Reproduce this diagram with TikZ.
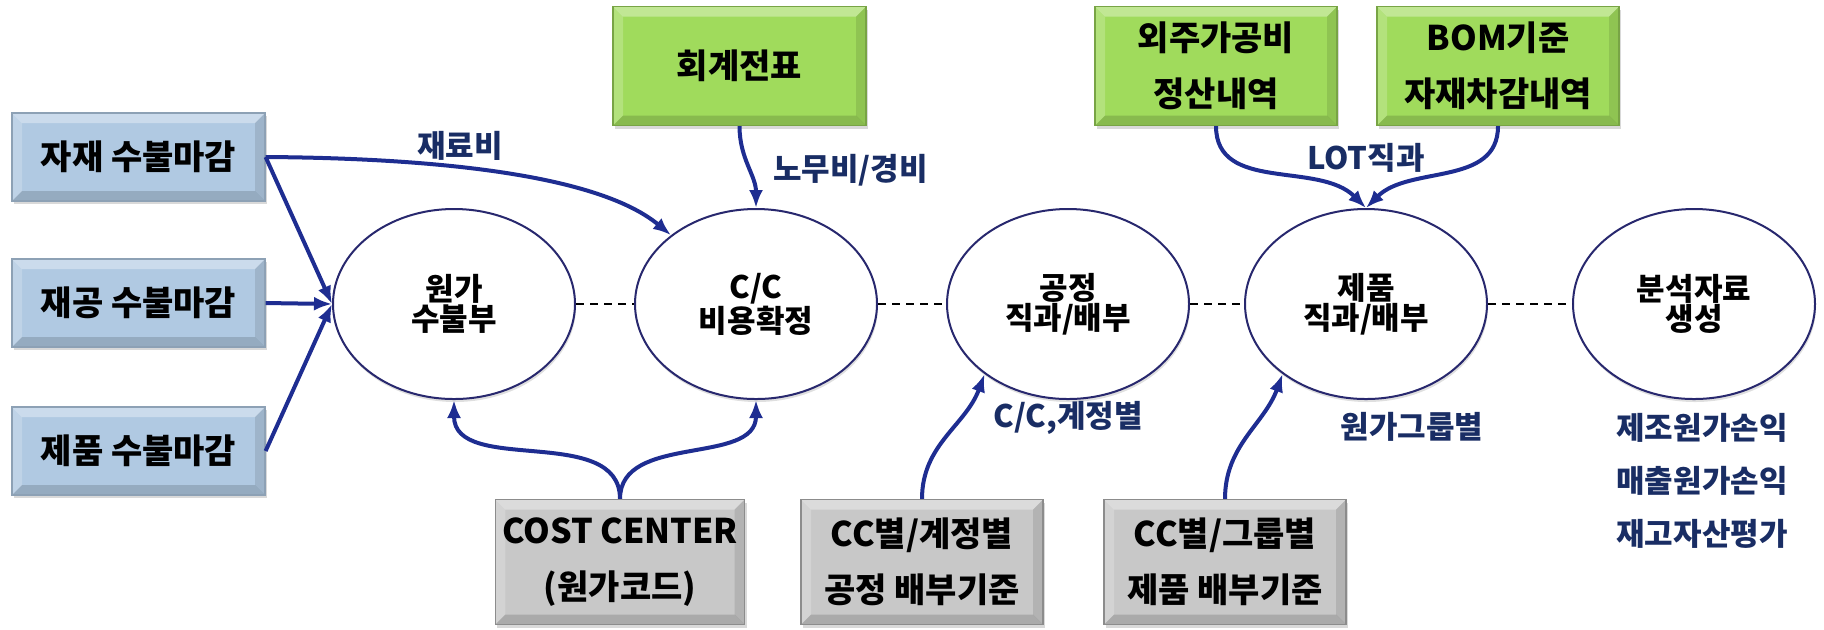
\documentclass[tikz,border=0pt]{standalone}
\usepackage{fontspec}
\setmainfont{Noto Sans CJK KR}
\usetikzlibrary{arrows.meta,shapes.geometric,shadows}

\definecolor{boxblue}{RGB}{176,201,226}
\definecolor{boxgreen}{RGB}{160,219,92}
\definecolor{boxgray}{RGB}{200,200,200}
\definecolor{flowblue}{RGB}{30,45,145}
\definecolor{labelblue}{RGB}{25,45,100}
\definecolor{rimblue}{RGB}{40,40,110}

\tikzset{
    bevel/.style={path picture={
        \fill[white, opacity=0.35] (path picture bounding box.north west)
            -- (path picture bounding box.north east)
            -- ([xshift=-5pt, yshift=-5pt]path picture bounding box.north east)
            -- ([xshift=5pt, yshift=-5pt]path picture bounding box.north west) -- cycle;
        \fill[white, opacity=0.2] (path picture bounding box.north west)
            -- (path picture bounding box.south west)
            -- ([xshift=5pt, yshift=5pt]path picture bounding box.south west)
            -- ([xshift=5pt, yshift=-5pt]path picture bounding box.north west) -- cycle;
        \fill[black, opacity=0.15] (path picture bounding box.south west)
            -- (path picture bounding box.south east)
            -- ([xshift=-5pt, yshift=5pt]path picture bounding box.south east)
            -- ([xshift=5pt, yshift=5pt]path picture bounding box.south west) -- cycle;
        \fill[black, opacity=0.1] (path picture bounding box.north east)
            -- (path picture bounding box.south east)
            -- ([xshift=-5pt, yshift=5pt]path picture bounding box.south east)
            -- ([xshift=-5pt, yshift=-5pt]path picture bounding box.north east) -- cycle;
    }},
    closebox/.style={rectangle, fill=boxblue, draw=boxblue!80!black, line width=0.6pt,
        minimum width=126.5pt, minimum height=44pt, align=center, bevel,
        font=\fontsize{17}{28}\selectfont\bfseries,
        drop shadow={shadow xshift=1pt, shadow yshift=-1.5pt, opacity=0.3}},
    srcbox/.style={closebox, fill=boxgreen, draw=boxgreen!75!black,
        minimum width=121pt, minimum height=59.5pt},
    rulebox/.style={closebox, fill=boxgray, draw=boxgray!70!black,
        minimum width=121pt, minimum height=62.5pt},
    stage/.style={ellipse, draw=rimblue, line width=1pt, fill=white, inner sep=0pt,
        minimum width=121pt, minimum height=95pt, align=center,
        font=\fontsize{15.5}{15}\selectfont\bfseries,
        drop shadow={shadow xshift=0.5pt, shadow yshift=-1.5pt, opacity=0.25}},
    flow/.style={draw=flowblue, line width=2pt, -{Latex[length=9pt,width=7pt]}},
    link/.style={line width=0.8pt, dash pattern=on 4pt off 3pt},
    tag/.style={text=labelblue, font=\fontsize{15.5}{26.5}\selectfont\bfseries}
}

\begin{document}
\begin{tikzpicture}[x=0.5pt, y=-0.5pt]
    \useasboundingbox (0,0) rectangle (1824,629);
    %% closing boxes
    \node[closebox] (mat) at (138.5,157) {자재 수불마감};
    \node[closebox] (wip) at (138.5,303) {재공 수불마감};
    \node[closebox] (fg)  at (138.5,451) {제품 수불마감};
    %% source boxes
    \node[srcbox, minimum width=126.5pt] (acct) at (739.5,66) {회계전표};
    \node[srcbox] (sub) at (1216,66) {외주가공비\\정산내역};
    \node[srcbox] (bom) at (1498,66) {BOM기준\\자재차감내역};
    %% rule boxes
    \node[rulebox] (costc)    at (620,562)  {COST CENTER\\(원가코드)};
    \node[rulebox] (ruleproc) at (922,562)  {CC별/계정별\\공정 배부기준};
    \node[rulebox] (ruleprod) at (1225,562) {CC별/그룹별\\제품 배부기준};
    %% stages
    \node[stage] (raw)  at (454,304)  {원가\\수불부};
    \node[stage] (cc)   at (756,304)  {C/C\\비용확정};
    \node[stage] (proc) at (1068,304) {공정\\직과/배부};
    \node[stage] (prod) at (1366,304) {제품\\직과/배부};
    \node[stage] (anal) at (1694,304) {분석자료\\생성};
    %% dashed links
    \foreach \a/\b in {raw/cc, cc/proc, proc/prod, prod/anal}
        \draw[link] (\a.east) -- (\b.west);
    %% closing into raw
    \draw[flow] (mat.east) -- (raw.west);
    \draw[flow] (wip.east) -- (raw.west);
    \draw[flow] (fg.east) -- (raw.west);
    %% material cost
    \draw[flow] (mat.east) .. controls (420,158) and (595,172) .. (cc.141);
    \node[tag] (matlbl) at (460,146) {재료비};
    %% labour and overhead
    \draw[flow] (acct.south) to[out=-90,in=90] (cc.north);
    \node[tag, anchor=west] (acctlbl) at (766,170) {노무비/경비};
    %% cost centre
    \draw[flow] (costc.north) to[out=90,in=-90] (raw.south);
    \draw[flow] (costc.north) to[out=90,in=-90] (cc.south);
    %% allocation rules
    \draw[flow] (ruleproc.north) to[out=90,in=-110] (proc.220);
    \node[tag] (proclbl) at (1068,418) {C/C,계정별};
    \draw[flow] (ruleprod.north) to[out=90,in=-110] (prod.220);
    \node[tag] (prodlbl) at (1412,427) {원가그룹별};
    %% lot direct
    \draw[flow] (sub.south) to[out=-90,in=135] (prod.north);
    \draw[flow] (bom.south) to[out=-90,in=45] (prod.north);
    \node[tag] (lotlbl) at (1366,158) {LOT직과};
    %% reports
    \node[tag, align=center] (report) at (1702,481) {제조원가손익\\매출원가손익\\재고자산평가};
\end{tikzpicture}
\end{document}
